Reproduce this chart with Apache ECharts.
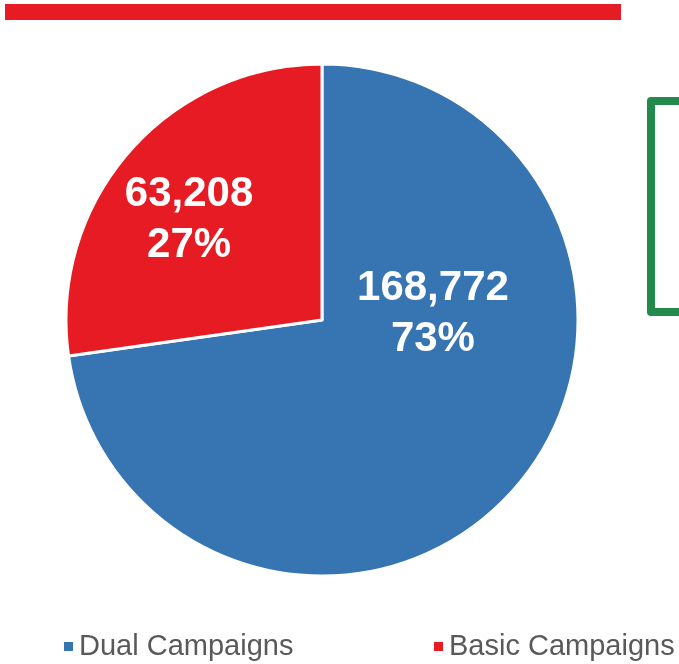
<!DOCTYPE html>
<html>
<head>
<meta charset="utf-8">
<script src="https://cdn.jsdelivr.net/npm/echarts@6/dist/echarts.min.js"></script>
<style>
  html, body { margin: 0; padding: 0; background: #fff; }
  #pie { width: 679px; height: 664px; }
</style>
</head>
<body>
<div id="pie"></div>
<script>
  const categories = ['Dual Campaigns', 'Basic Campaigns'];
  const values = [168772, 63208];
  const colors = ['#3674b2', '#e61b23'];
  // label nudges so the text sits where the original put it
  const labelOffsets = [[12, -92], [-34, -14]];
  const legendLefts = [62, 432];

  function withCommas(n) {
    return String(n).replace(/\B(?=(\d{3})+(?!\d))/g, ',');
  }

  let dom = document.getElementById('pie');
  let chart = echarts.init(dom);
  let fontFam = '"Liberation Sans", Arial, sans-serif';

  // one legend per item so the row never wraps
  let legends = categories.map(function (name, i) {
    return {
      data: [name],
      left: legendLefts[i],
      top: 632,
      padding: 0,
      icon: 'rect',
      itemWidth: 11,
      itemHeight: 11,
      textStyle: { fontSize: 29, color: '#595959', fontFamily: fontFam }
    };
  });

  let option = {
    backgroundColor: '#fff',
    animation: false,
    color: colors,
    legend: legends,
    graphic: [
      { type: 'rect', shape: { x: 5, y: 4, width: 616, height: 16 }, style: { fill: '#e61b23' } },
      {
        type: 'polyline',
        shape: { points: [[684, 101], [651, 101], [651, 312], [684, 312]] },
        style: { stroke: '#238a4c', lineWidth: 8, fill: null, lineJoin: 'round' }
      }
    ],
    series: [{
      type: 'pie',
      center: [322, 320],
      radius: 256,
      startAngle: 90,
      clockwise: true,
      itemStyle: { borderColor: '#fff', borderWidth: 3 },
      label: {
        position: 'inside',
        color: '#fff',
        fontSize: 42,
        fontWeight: 'bold',
        lineHeight: 51,
        fontFamily: fontFam,
        formatter: function (p) {
          return withCommas(p.value) + '\n' + Math.round(p.percent) + '%';
        }
      },
      labelLine: { show: false },
      data: categories.map(function (name, i) {
        return { name: name, value: values[i], label: { offset: labelOffsets[i] } };
      })
    }]
  };

  chart.setOption(option);
  window.addEventListener('resize', function () {
    chart.resize();
  });
</script>
</body>
</html>
